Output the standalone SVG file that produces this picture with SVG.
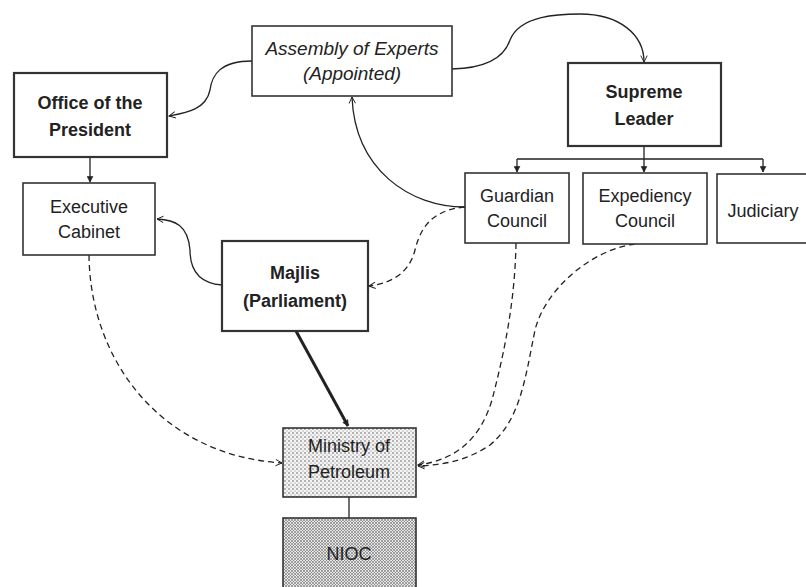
<svg xmlns="http://www.w3.org/2000/svg" width="806" height="587" viewBox="0 0 806 587">
<defs>
<pattern id="dots1" width="4" height="4" patternUnits="userSpaceOnUse">
<rect width="4" height="4" fill="#f4f4f4"/>
<circle cx="1" cy="1" r="0.75" fill="#555"/>
<circle cx="3" cy="3" r="0.55" fill="#777"/>
</pattern>
<pattern id="dots2" width="3" height="3" patternUnits="userSpaceOnUse">
<rect width="3" height="3" fill="#e6e6e6"/>
<circle cx="1" cy="1" r="0.8" fill="#444"/>
<circle cx="2.5" cy="2.5" r="0.5" fill="#666"/>
</pattern>
<marker id="arr" viewBox="0 0 10 10" refX="9" refY="5" markerWidth="8" markerHeight="8" orient="auto" markerUnits="userSpaceOnUse">
<path d="M1,1 L9,5 L1,9" fill="none" stroke="#222" stroke-width="1.2"/>
</marker>
<marker id="arrf" viewBox="0 0 10 10" refX="9" refY="5" markerWidth="7" markerHeight="7" orient="auto" markerUnits="userSpaceOnUse">
<path d="M1,1 L9,5 L1,9 Z" fill="#222" stroke="#222" stroke-width="1"/>
</marker>
</defs>
<style>
.box{fill:#fff;stroke:#333;stroke-width:1.6}
.thick{stroke-width:2.2}
.t{font-family:"Liberation Sans",Arial,sans-serif;font-size:18px;fill:#222;text-anchor:middle}
.b{font-weight:bold}
.i{font-style:italic;font-size:19px}
.c{fill:none;stroke:#222;stroke-width:1.3}
.d{stroke-dasharray:6,4}
</style>
<rect width="806" height="587" fill="#fff"/>
<g id="connectors">
<path class="c" d="M452,69 C490,68 505,55 510,40 C520,15 560,14 580,14 C620,14 644,35 644,62" marker-end="url(#arr)"/>
<path class="c" d="M252,61 C220,61 212,75 210,90 C206,110 185,113 169,116" marker-end="url(#arr)"/>
<path class="c" d="M465,207 C410,207 355,170 352,97" marker-end="url(#arr)"/>
<path class="c d" d="M465,207 C430,210 420,230 415,250 C410,270 395,283 369,286" marker-end="url(#arr)"/>
<path class="c" d="M222,285 C195,283 190,265 190,250 C188,225 175,220 157,219" marker-end="url(#arr)"/>
<path class="c" d="M90,157 L90,182" marker-end="url(#arrf)"/>
<path class="c d" d="M89,255 C90,360 160,455 282,463" marker-end="url(#arr)"/>
<path class="c" style="stroke-width:3" d="M296,331 L348,426" marker-end="url(#arrf)"/>
<path class="c d" d="M516,243 C515,300 505,350 492,400 C480,440 455,460 418,465" marker-end="url(#arr)"/>
<path class="c d" d="M635,244 C590,250 545,290 535,330 C525,380 520,420 490,445 C465,462 440,465 418,466" marker-end="url(#arr)"/>
<path class="c" d="M644,146 L644,159 M517,159 L763,159"/>
<path class="c" d="M517,159 L517,172" marker-end="url(#arrf)"/>
<path class="c" d="M644,159 L644,172" marker-end="url(#arrf)"/>
<path class="c" d="M763,159 L763,172" marker-end="url(#arrf)"/>
<path class="c" d="M349,497 L349,518"/>
</g>
<g id="assembly">
<rect class="box" x="252" y="26" width="200" height="70"/>
<text class="t i" x="352" y="55">Assembly of Experts</text>
<text class="t i" x="352" y="80">(Appointed)</text>
</g>
<g id="office">
<rect class="box thick" x="14" y="73" width="153" height="84"/>
<text class="t b" x="90" y="109">Office of the</text>
<text class="t b" x="90" y="136">President</text>
</g>
<g id="executive">
<rect class="box" x="23" y="183" width="132" height="72"/>
<text class="t" x="89" y="213">Executive</text>
<text class="t" x="89" y="238">Cabinet</text>
</g>
<g id="supreme">
<rect class="box thick" x="568" y="63" width="153" height="83"/>
<text class="t b" x="644" y="98">Supreme</text>
<text class="t b" x="644" y="125">Leader</text>
</g>
<g id="guardian">
<rect class="box" x="465" y="173" width="104" height="70"/>
<text class="t" x="517" y="202">Guardian</text>
<text class="t" x="517" y="227">Council</text>
</g>
<g id="expediency">
<rect class="box" x="583" y="173" width="124" height="71"/>
<text class="t" x="645" y="202">Expediency</text>
<text class="t" x="645" y="227">Council</text>
</g>
<g id="judiciary">
<rect class="box" x="717" y="174" width="110" height="69"/>
<text class="t" x="763" y="217">Judiciary</text>
</g>
<g id="majlis">
<rect class="box thick" x="222" y="241" width="146" height="90"/>
<text class="t b" x="295" y="279">Majlis</text>
<text class="t b" x="295" y="307">(Parliament)</text>
</g>
<g id="ministry">
<rect class="box" style="fill:url(#dots1)" x="283" y="428" width="133" height="69"/>
<text class="t" x="349" y="452">Ministry of</text>
<text class="t" x="349" y="478">Petroleum</text>
</g>
<g id="nioc">
<rect class="box" style="fill:url(#dots2)" x="283" y="518" width="133" height="80"/>
<text class="t" x="349" y="560">NIOC</text>
</g>
</svg>
